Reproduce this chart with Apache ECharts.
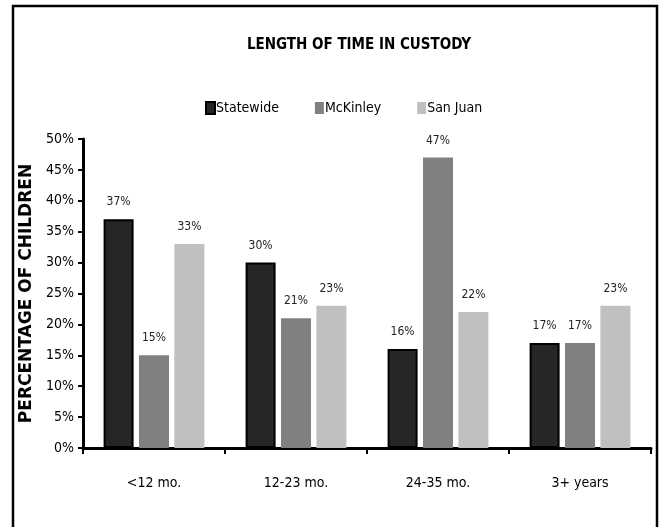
<!DOCTYPE html>
<html>
<head>
<meta charset="utf-8">
<script src="https://cdn.jsdelivr.net/npm/echarts@6/dist/echarts.min.js"></script>
<style>
  html, body { margin: 0; padding: 0; background: #fff; }
  #main { width: 661px; height: 527px; }
</style>
</head>
<body>
<div id="main"></div>
<script>
var categories = ['<12 mo.', '12-23 mo.', '24-35 mo.', '3+ years']
var statewide = [37, 30, 16, 17]
var mckinley = [15, 21, 47, 17]
var sanJuan = [33, 23, 22, 23]
var yTicks = [0, 5, 10, 15, 20, 25, 30, 35, 40, 45, 50]

var narrow = '"DejaVu Sans Condensed", "Liberation Sans", sans-serif'

var chart = echarts.init(document.getElementById('main'))

function barLabel() {
    return {
        show: true,
        position: 'top',
        distance: 11,
        formatter: '{c}%',
        fontFamily: narrow,
        fontSize: 12,
        color: '#222'
    }
}

var option = {
    animation: false,
    backgroundColor: '#fff',
    title: {
        text: 'LENGTH OF TIME IN CUSTODY',
        left: 354,
        textAlign: 'center',
        top: 33,
        textStyle: {
            fontFamily: narrow,
            fontWeight: 'bold',
            fontSize: 15,
            color: '#000'
        }
    },
    legend: {
        top: 96,
        left: 200,
        itemWidth: 9,
        itemHeight: 12,
        itemGap: 36,
        icon: 'rect',
        textStyle: {
            fontFamily: narrow,
            fontSize: 14,
            color: '#000',
            padding: [0, 0, 0, -4]
        },
        data: ['Statewide', 'McKinley', 'San Juan']
    },
    grid: {
        left: 83,
        right: 10,
        top: 139,
        bottom: 79
    },
    xAxis: {
        type: 'category',
        data: categories,
        axisLine: { lineStyle: { color: '#000', width: 3 } },
        axisTick: { show: true, length: 6, lineStyle: { color: '#000', width: 2 } },
        axisLabel: {
            fontFamily: narrow,
            fontSize: 14,
            color: '#000',
            margin: 28
        }
    },
    yAxis: {
        type: 'value',
        min: yTicks[0],
        max: yTicks[yTicks.length - 1],
        interval: 5,
        name: 'PERCENTAGE OF CHILDREN',
        nameLocation: 'middle',
        nameGap: 46,
        nameTextStyle: {
            fontFamily: '"DejaVu Sans", "Liberation Sans", sans-serif',
            fontWeight: 'bold',
            fontSize: 17,
            color: '#000'
        },
        splitLine: { show: false },
        axisLine: { show: true, lineStyle: { color: '#000', width: 3 } },
        axisTick: { show: true, inside: false, length: 5, lineStyle: { color: '#000', width: 2 } },
        axisLabel: {
            fontFamily: narrow,
            fontSize: 14,
            color: '#000',
            margin: 9,
            formatter: '{value}%'
        }
    },
    series: [
        {
            name: 'Statewide',
            type: 'bar',
            data: statewide,
            barWidth: 30,
            barGap: '18%',
            itemStyle: { color: '#262626', borderColor: '#000', borderWidth: 2 },
            label: barLabel()
        },
        {
            name: 'McKinley',
            type: 'bar',
            data: mckinley,
            barWidth: 30,
            itemStyle: { color: '#808080' },
            label: barLabel()
        },
        {
            name: 'San Juan',
            type: 'bar',
            data: sanJuan,
            barWidth: 30,
            itemStyle: { color: '#c0c0c0' },
            label: barLabel()
        }
    ],
    graphic: [{
        type: 'rect',
        shape: { x: 13, y: 6, width: 644, height: 540 },
        style: { fill: null, stroke: '#000', lineWidth: 2.5 },
        silent: true
    }]
}

chart.setOption(option)
</script>
</body>
</html>
